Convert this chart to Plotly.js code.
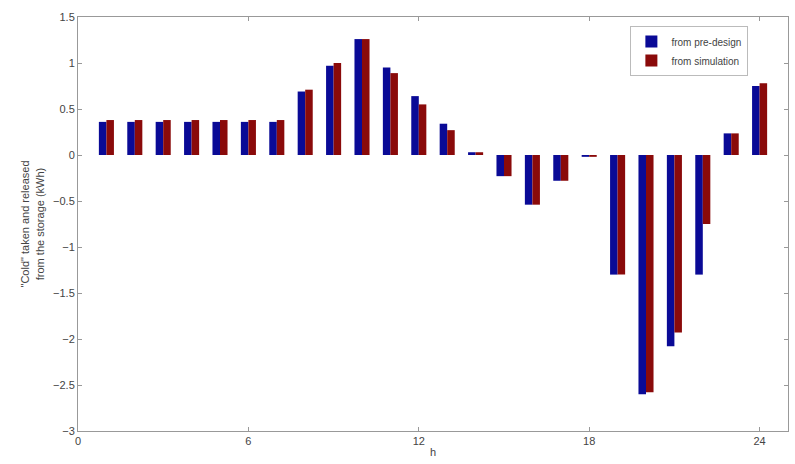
<!DOCTYPE html>
<html>
<head>
<meta charset="utf-8">
<script src="https://cdn.plot.ly/plotly-3.0.1.min.js"></script>
<style>html,body{margin:0;padding:0;background:#fff;}#chart{width:795px;height:464px;}</style>
</head>
<body>
<div id="chart"></div>
<script>
const hours = [1,2,3,4,5,6,7,8,9,10,11,12,13,14,15,16,17,18,19,20,21,22,23,24];
const preDesign = [0.36,0.36,0.36,0.36,0.36,0.36,0.36,0.69,0.97,1.26,0.95,0.64,0.34,0.03,-0.23,-0.54,-0.28,-0.02,-1.30,-2.60,-2.08,-1.30,0.235,0.75];
const simulation = [0.38,0.38,0.38,0.38,0.38,0.38,0.38,0.71,1.00,1.26,0.89,0.55,0.27,0.03,-0.23,-0.54,-0.28,-0.02,-1.30,-2.58,-1.93,-0.75,0.235,0.78];
const seriesNames = ["from pre-design","from simulation"];
const xTicks = [0,6,12,18,24];

const traces = [
  {type:"bar", x:hours, y:preDesign, name:seriesNames[0], marker:{color:"#0a0a96", line:{width:0}}},
  {type:"bar", x:hours, y:simulation, name:seriesNames[1], marker:{color:"#8a0a0a", line:{width:0}}}
];
const axisCommon = {
  showline:true, mirror:"ticks", linecolor:"#999", linewidth:1,
  ticks:"inside", ticklen:4, tickcolor:"#999",
  showgrid:false, zeroline:false,
  tickfont:{family:"Liberation Sans, Arial, sans-serif", size:11, color:"#444"}
};
const layout = {
  width:795, height:464,
  margin:{l:78, r:7, t:17, b:33},
  paper_bgcolor:"#fff", plot_bgcolor:"#fff",
  barmode:"group", bargap:0.47, bargroupgap:0,
  font:{family:"Liberation Sans, Arial, sans-serif", size:11, color:"#444"},
  xaxis:Object.assign({}, axisCommon, {range:[0,25], tickvals:xTicks, ticktext:xTicks.map(String),
    title:{text:"h", standoff:2, font:{size:11, color:"#444"}}}),
  yaxis:Object.assign({}, axisCommon, {range:[-3,1.5], dtick:0.5, tick0:0,
    title:{text:"\"Cold\" taken and released<br>from the storage (kWh)", standoff:6, font:{size:11, color:"#444"}}}),
  showlegend:true,
  legend:{x:0.778, y:0.978, xanchor:"left", yanchor:"top", bgcolor:"#fff", bordercolor:"#bbb", borderwidth:1,
    font:{size:10, color:"#444"}, tracegroupgap:0, itemsizing:"constant", itemwidth:30}
};
Plotly.newPlot("chart", traces, layout, {staticPlot:true, displayModeBar:false});
</script>
</body>
</html>
